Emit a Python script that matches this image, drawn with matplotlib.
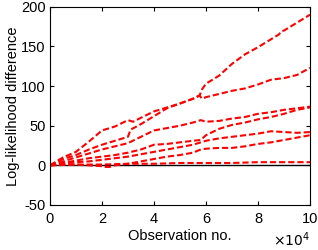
import matplotlib
matplotlib.use("Agg")
import matplotlib.pyplot as plt

plt.rcParams['font.family'] = ['Liberation Sans', 'DejaVu Sans']

# x in units of 10^4 observations
xA = [0, 0.5, 1, 1.5, 2, 2.5, 3, 3.2, 3.5, 4, 4.5, 5, 5.5, 5.75, 5.85, 6, 6.5, 7, 7.5, 8, 8.5, 8.8, 8.9, 9, 9.5, 10]
yA = [0, 10, 17, 30, 44, 49, 57, 55, 60, 68, 73, 78, 84, 88, 96, 103, 113, 128, 140, 149, 159, 165, 169, 170, 180, 190]

xB = [0, 0.5, 1, 1.5, 2, 2.5, 3, 3.1, 3.5, 4, 4.5, 5, 5.5, 5.75, 5.85, 6, 6.5, 7, 7.5, 8, 8.5, 9, 9.5, 10]
yB = [0, 8, 13, 20, 26, 31, 36, 45, 52, 62, 72, 78, 84, 88, 84, 86, 90, 94, 97, 102, 108, 110, 114, 123]

xC = [0, 0.5, 1, 1.5, 2, 2.5, 3, 3.5, 4, 4.5, 5, 5.5, 5.8, 6, 6.5, 7, 7.5, 8, 8.5, 9, 9.5, 10]
yC = [0, 5, 10, 15, 20, 24, 28, 36, 44, 47, 50, 54, 57, 55, 56, 59, 61, 65, 67, 70, 72, 74]

xD = [0, 0.5, 1, 1.5, 2, 2.5, 3, 3.5, 4, 4.5, 5, 5.5, 5.8, 6, 6.5, 7, 7.5, 8, 8.5, 9, 9.5, 10]
yD = [0, 3, 6, 9, 11, 13, 16, 20, 26, 27, 29, 31, 32, 38, 46, 51, 54, 58, 61, 65, 70, 73]

xE = [0, 0.5, 1, 1.5, 2, 2.5, 3, 3.5, 4, 4.5, 5, 5.5, 6, 6.5, 7, 7.5, 8, 8.5, 9, 9.5, 10]
yE = [0, 2, 4, 5, 7, 9, 11, 14, 17, 20, 23, 26, 31, 34, 36, 38, 40, 43, 42, 41, 42]

xF = [0, 0.5, 1, 1.5, 2, 2.1, 2.3, 2.5, 3, 3.5, 4, 4.5, 5, 5.5, 5.8, 6, 6.5, 7, 7.5, 8, 8.5, 9, 9.5, 10]
yF = [0, 1, 1, 0, -1, -2, -2, 0, 2, 5, 8, 11, 13, 16, 20, 21, 22, 22, 24, 27, 29, 32, 35, 38]

xG = [0, 1, 2, 3, 4, 5, 6, 7, 8, 9, 10]
yG = [0, 1, 1, 2, 2, 3, 3, 3, 4, 4, 4]

series = [(xA, yA), (xB, yB), (xC, yC), (xD, yD), (xE, yE), (xF, yF), (xG, yG)]

xticks = [0, 2, 4, 6, 8, 10]
yticks = [-50, 0, 50, 100, 150, 200]

fig = plt.figure(figsize=(3.18, 2.5), dpi=100)
ax = fig.add_axes([0.157, 0.18, 0.818, 0.793])

ax.plot([0, 10], [0, 0], color='black', linewidth=1.0)
for xs, ys in series:
    ax.plot(xs, ys, color='#ff0000', linewidth=1.5, dashes=(3, 1.4))

ax.set_xlim(0, 10)
ax.set_ylim(-50, 200)
ax.set_xticks(xticks)
ax.set_yticks(yticks)
ax.set_xticklabels([str(t) for t in xticks])
ax.set_yticklabels([str(t) for t in yticks])
ax.tick_params(direction='in', top=True, right=True, length=3, width=0.8,
               labelsize=10.5, pad=3)
ax.tick_params(axis='x', pad=5)
for s in ax.spines.values():
    s.set_linewidth(0.8)

ax.set_xlabel('Observation no.', fontsize=10.5, labelpad=2)
ax.set_ylabel('Log-likelihood difference', fontsize=10.5, labelpad=1)
ax.text(1.0, -0.222, r'$\times10^{4}$', transform=ax.transAxes,
        ha='right', va='bottom', fontsize=10)

fig.savefig('out.png', dpi=100)
